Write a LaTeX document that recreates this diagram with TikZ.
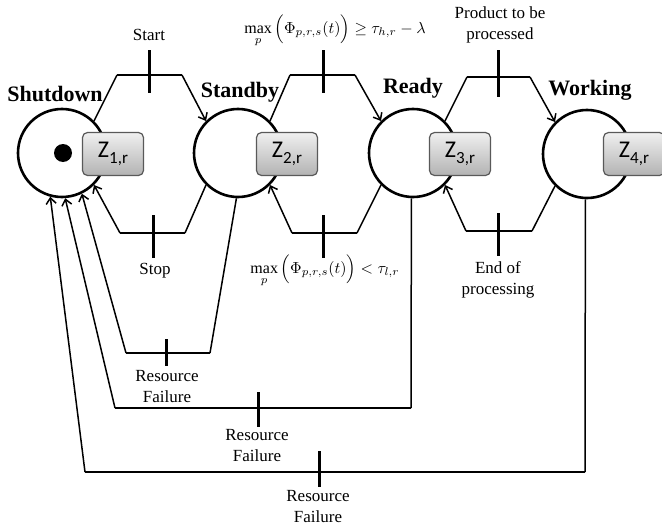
\documentclass[tikz,border=0pt]{standalone}
\usepackage{amsmath}
\usepackage{amssymb}
\usepackage{fontspec}
\setmainfont{Liberation Serif}
\newfontfamily\zfont{Carlito}
\usetikzlibrary{arrows.meta}

\newcommand{\zlab}[1]{Z\raisebox{-0.22em}{\fontsize{17}{17}\selectfont#1}}

\begin{document}
\begin{tikzpicture}[>={Straight Barb[length=6pt,width=10pt]},
  place/.style={circle, draw, line width=2.6pt, minimum size=88pt, inner sep=0pt},
  token/.style={circle, fill, minimum size=18pt, inner sep=0pt},
  zbox/.style={draw=black!65, line width=1.2pt, rounded corners=5pt, top color=black!6, bottom color=black!30, minimum width=61pt, minimum height=43pt, inner sep=0pt, font=\zfont\fontsize{24}{24}\selectfont},
  trans/.style={fill, minimum width=3pt, inner sep=0pt},
  arc/.style={line width=1.5pt},
  hline/.style={line width=2.6pt},
  lbl/.style={font=\fontsize{17}{21}\selectfont, align=center},
  mlbl/.style={scale=1.6, inner sep=0pt},
  title/.style={font=\bfseries\fontsize{22}{22}\selectfont}]
\useasboundingbox (0pt,0pt) rectangle (662pt,-530pt);
\draw (62pt, -153pt)node[place](0){};
\draw (238pt, -153pt)node[place](1){};
\draw (413pt, -153pt)node[place](2){};
\draw (587pt, -154pt)node[place](3){};
\draw (63pt, -153pt)node[token](dot){};
\draw (55pt, -94pt)node[title](n0){Shutdown};
\draw (240pt, -92pt)node[title](n1){Standby};
\draw (413pt, -88pt)node[title](n2){Ready};
\draw (590pt, -90pt)node[title](n3){Working};
\coordinate (a0) at (117pt, -75pt);
\coordinate (b0) at (182pt, -75pt);
\coordinate (a1) at (290pt, -75pt);
\coordinate (b1) at (355pt, -75pt);
\coordinate (a2) at (467pt, -77pt);
\coordinate (b2) at (530pt, -77pt);
\coordinate (c0) at (120pt, -233pt);
\coordinate (d0) at (185pt, -233pt);
\coordinate (c1) at (292pt, -233pt);
\coordinate (d1) at (357pt, -233pt);
\coordinate (c2) at (466pt, -231pt);
\coordinate (d2) at (532pt, -231pt);
\coordinate (f0a) at (126pt, -353pt);
\coordinate (f0b) at (210pt, -353pt);
\coordinate (f1a) at (115pt, -408pt);
\coordinate (f1b) at (411pt, -408pt);
\coordinate (f2a) at (85pt, -472pt);
\coordinate (f2b) at (585pt, -472pt);
\draw[arc] (0.45) -- (a0);
\draw[hline] (a0) -- (b0);
\draw[arc,->] (b0) -- (1.135);
\draw[arc] (1.45) -- (a1);
\draw[hline] (a1) -- (b1);
\draw[arc,->] (b1) -- (2.135);
\draw[arc] (2.45) -- (a2);
\draw[hline] (a2) -- (b2);
\draw[arc,->] (b2) -- (3.135);
\draw[arc] (1.225) -- (d0);
\draw[hline] (d0) -- (c0);
\draw[arc,->] (c0) -- (0.315);
\draw[arc] (2.225) -- (d1);
\draw[hline] (d1) -- (c1);
\draw[arc,->] (c1) -- (1.315);
\draw[arc] (3.225) -- (d2);
\draw[hline] (d2) -- (c2);
\draw[arc,->] (c2) -- (2.315);
\draw[arc] (1.268) -- (f0b);
\draw[hline] (f0b) -- (f0a);
\draw[arc,->] (f0a) -- (0.296);
\draw[arc] (2.268) -- (f1b);
\draw[hline] (f1b) -- (f1a);
\draw[arc,->] (f1a) -- (0.274);
\draw[arc] (3.268) -- (f2b);
\draw[hline] (f2b) -- (f2a);
\draw[arc,->] (f2a) -- (0.255);
\draw (113pt, -154pt)node[zbox](z0){\zlab{1,r}};
\draw (287pt, -154pt)node[zbox](z1){\zlab{2,r}};
\draw (460pt, -154pt)node[zbox](z2){\zlab{3,r}};
\draw (634pt, -154pt)node[zbox](z3){\zlab{4,r}};
\draw (149pt, -71.5pt)node[trans, minimum height=43pt](t0){};
\draw (323pt, -71.5pt)node[trans, minimum height=43pt](t1){};
\draw (498pt, -73.5pt)node[trans, minimum height=47pt](t2){};
\draw (153pt, -236.5pt)node[trans, minimum height=43pt](t3){};
\draw (323pt, -236.5pt)node[trans, minimum height=43pt](t4){};
\draw (498pt, -234.5pt)node[trans, minimum height=43pt](t5){};
\draw (166pt, -352pt)node[trans, minimum height=27pt](t6){};
\draw (258pt, -409.5pt)node[trans, minimum height=35pt](t7){};
\draw (319pt, -469pt)node[trans, minimum height=36pt](t8){};
\draw (149pt, -35pt)node[lbl](l0){Start};
\draw (335pt, -31pt)node[mlbl](l1){$\max\limits_p\Big(\Phi_{p,r,s}(t)\Big) \geq \tau_{h,r} - \lambda$};
\draw (500pt, -25pt)node[lbl](l2){Product to be\\processed};
\draw (155pt, -271pt)node[lbl](l3){Stop};
\draw (325pt, -271pt)node[mlbl](l4){$\max\limits_p\Big(\Phi_{p,r,s}(t)\Big) < \tau_{l,r}$};
\draw (498pt, -280pt)node[lbl](l5){End of\\processing};
\draw (167pt, -387pt)node[lbl](l6){Resource\\Failure};
\draw (257pt, -446pt)node[lbl](l7){Resource\\Failure};
\draw (318pt, -507pt)node[lbl](l8){Resource\\Failure};
\end{tikzpicture}
\end{document}
